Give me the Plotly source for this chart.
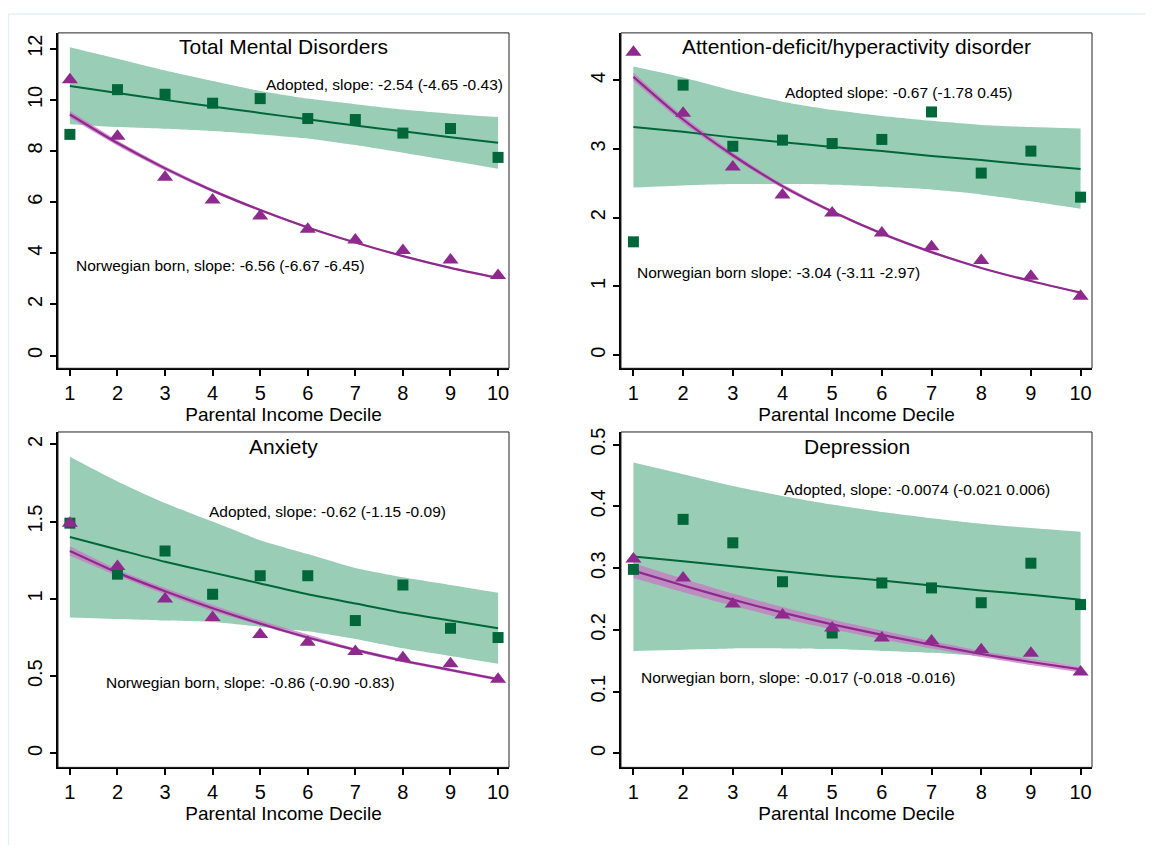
import plotly.graph_objects as go

# ---------------- data ----------------
deciles = [1, 2, 3, 4, 5, 6, 7, 8, 9, 10]

tmd_adopted = [8.65, 10.40, 10.22, 9.87, 10.05, 9.27, 9.23, 8.70, 8.88, 7.75]
tmd_norw = [10.79, 8.58, 6.97, 6.08, 5.46, 4.94, 4.52, 4.11, 3.74, 3.13]
tmd_adopted_fit = [10.54, 10.27, 10.00, 9.74, 9.49, 9.24, 9.00, 8.77, 8.54, 8.32]
tmd_adopted_lo = [9.05, 8.94, 8.87, 8.78, 8.65, 8.49, 8.23, 7.93, 7.62, 7.31]
tmd_adopted_hi = [12.06, 11.61, 11.15, 10.74, 10.35, 10.05, 9.83, 9.62, 9.46, 9.33]
tmd_norw_fit = [9.43, 8.31, 7.32, 6.45, 5.69, 5.01, 4.42, 3.89, 3.43, 3.03]
tmd_norw_lo = [9.30, 8.21, 7.24, 6.39, 5.64, 4.97, 4.39, 3.86, 3.40, 3.00]
tmd_norw_hi = [9.56, 8.41, 7.40, 6.51, 5.74, 5.05, 4.45, 3.92, 3.46, 3.06]

adhd_adopted = [1.65, 3.93, 3.04, 3.13, 3.08, 3.14, 3.54, 2.65, 2.97, 2.30]
adhd_norw = [4.41, 3.52, 2.74, 2.33, 2.07, 1.78, 1.58, 1.38, 1.15, 0.86]
adhd_adopted_fit = [3.32, 3.25, 3.17, 3.10, 3.03, 2.97, 2.90, 2.84, 2.77, 2.71]
adhd_adopted_lo = [2.44, 2.47, 2.49, 2.49, 2.48, 2.45, 2.41, 2.34, 2.24, 2.13]
adhd_adopted_hi = [4.20, 4.04, 3.85, 3.69, 3.57, 3.48, 3.41, 3.35, 3.32, 3.30]
adhd_norw_fit = [4.05, 3.43, 2.91, 2.46, 2.09, 1.77, 1.50, 1.27, 1.08, 0.91]
adhd_norw_lo = [3.99, 3.38, 2.87, 2.43, 2.07, 1.75, 1.48, 1.26, 1.07, 0.90]
adhd_norw_hi = [4.11, 3.48, 2.95, 2.49, 2.11, 1.79, 1.52, 1.28, 1.09, 0.92]

anx_adopted = [1.49, 1.16, 1.31, 1.03, 1.15, 1.15, 0.86, 1.09, 0.81, 0.75]
anx_norw = [1.49, 1.21, 1.00, 0.88, 0.77, 0.72, 0.66, 0.62, 0.58, 0.48]
anx_adopted_fit = [1.40, 1.32, 1.24, 1.17, 1.10, 1.03, 0.97, 0.91, 0.86, 0.81]
anx_adopted_lo = [0.88, 0.87, 0.86, 0.85, 0.82, 0.79, 0.74, 0.68, 0.63, 0.58]
anx_adopted_hi = [1.92, 1.76, 1.62, 1.50, 1.38, 1.29, 1.20, 1.14, 1.09, 1.04]
anx_norw_fit = [1.31, 1.17, 1.05, 0.94, 0.84, 0.75, 0.67, 0.60, 0.54, 0.48]
anx_norw_lo = [1.28, 1.15, 1.03, 0.92, 0.83, 0.74, 0.66, 0.59, 0.53, 0.47]
anx_norw_hi = [1.34, 1.19, 1.07, 0.96, 0.86, 0.77, 0.68, 0.61, 0.55, 0.49]

dep_adopted = [0.298, 0.379, 0.341, 0.278, 0.195, 0.276, 0.268, 0.244, 0.308, 0.241]
dep_norw = [0.315, 0.284, 0.242, 0.224, 0.203, 0.187, 0.182, 0.168, 0.162, 0.132]
dep_adopted_fit = [0.319, 0.311, 0.303, 0.295, 0.287, 0.280, 0.272, 0.264, 0.257, 0.249]
dep_adopted_lo = [0.166, 0.168, 0.170, 0.170, 0.169, 0.166, 0.163, 0.158, 0.151, 0.141]
dep_adopted_hi = [0.471, 0.452, 0.433, 0.417, 0.403, 0.391, 0.381, 0.372, 0.365, 0.359]
dep_norw_fit = [0.296, 0.272, 0.249, 0.228, 0.209, 0.192, 0.176, 0.161, 0.148, 0.136]
dep_norw_lo = [0.284, 0.261, 0.239, 0.219, 0.201, 0.185, 0.170, 0.156, 0.143, 0.131]
dep_norw_hi = [0.308, 0.283, 0.259, 0.237, 0.217, 0.199, 0.182, 0.166, 0.153, 0.141]

titles = ["Total Mental Disorders", "Attention-deficit/hyperactivity disorder", "Anxiety", "Depression"]
adopted_labels = [
    "Adopted, slope: -2.54 (-4.65 -0.43)",
    "Adopted slope: -0.67 (-1.78 0.45)",
    "Adopted, slope: -0.62 (-1.15 -0.09)",
    "Adopted, slope: -0.0074 (-0.021 0.006)",
]
norw_labels = [
    "Norwegian born, slope: -6.56 (-6.67 -6.45)",
    "Norwegian born slope: -3.04 (-3.11 -2.97)",
    "Norwegian born, slope: -0.86 (-0.90 -0.83)",
    "Norwegian born, slope: -0.017 (-0.018 -0.016)",
]
y_ticks = [
    [0, 2, 4, 6, 8, 10, 12],
    [0, 1, 2, 3, 4],
    [0, 0.5, 1, 1.5, 2],
    [0, 0.1, 0.2, 0.3, 0.4, 0.5],
]
y_ticktext = [
    ["0", "2", "4", "6", "8", "10", "12"],
    ["0", "1", "2", "3", "4"],
    ["0", "0.5", "1", "1.5", "2"],
    ["0", "0.1", "0.2", "0.3", "0.4", "0.5"],
]
x_title = "Parental Income Decile"

panels = [
    dict(adopted=tmd_adopted, norw=tmd_norw, afit=tmd_adopted_fit, alo=tmd_adopted_lo, ahi=tmd_adopted_hi,
         nfit=tmd_norw_fit, nlo=tmd_norw_lo, nhi=tmd_norw_hi),
    dict(adopted=adhd_adopted, norw=adhd_norw, afit=adhd_adopted_fit, alo=adhd_adopted_lo, ahi=adhd_adopted_hi,
         nfit=adhd_norw_fit, nlo=adhd_norw_lo, nhi=adhd_norw_hi),
    dict(adopted=anx_adopted, norw=anx_norw, afit=anx_adopted_fit, alo=anx_adopted_lo, ahi=anx_adopted_hi,
         nfit=anx_norw_fit, nlo=anx_norw_lo, nhi=anx_norw_hi),
    dict(adopted=dep_adopted, norw=dep_norw, afit=dep_adopted_fit, alo=dep_adopted_lo, ahi=dep_adopted_hi,
         nfit=dep_norw_fit, nlo=dep_norw_lo, nhi=dep_norw_hi),
]

# ---------------- styling / layout ----------------
OFF = 8  # page body margin in the browser
W, H = 1154 - OFF, 845 - OFF
GREEN = "#00673A"
GREEN_BAND = "#99CDB5"
PURPLE = "#8E2A8E"
PURPLE_BAND = "rgba(200,120,195,0.75)"
FONT = "Liberation Sans, Arial, sans-serif"

# pixel frames of each panel on screen (left, right, top, bottom)
frames = [(58, 509, 29, 366), (621, 1092, 29, 366), (58, 509, 430, 767), (621, 1092, 430, 767)]
y_ranges = [(-0.5, 12.62), (-0.19, 4.69), (-0.09, 2.08), (-0.0226, 0.5205)]
x_ranges = [(0.75, 10.23), (0.75, 10.23), (0.75, 10.23), (0.75, 10.23)]

adopted_pos = [(0.457, 0.846), (0.344, 0.822), (0.330, 0.762), (0.342, 0.829)]
norw_pos = [(0.035, 0.306), (0.030, 0.285), (0.102, 0.252), (0.039, 0.267)]

fig = go.Figure()
layout = dict(
    width=W, height=H,
    margin=dict(l=0, r=0, t=0, b=0),
    paper_bgcolor="white", plot_bgcolor="white",
    showlegend=False,
    font=dict(family=FONT, color="black"),
)
annotations = []
shapes = []

for i, p in enumerate(panels):
    n = i + 1
    xa = "x" if n == 1 else f"x{n}"
    ya = "y" if n == 1 else f"y{n}"
    xkey = "xaxis" if n == 1 else f"xaxis{n}"
    ykey = "yaxis" if n == 1 else f"yaxis{n}"
    l, r, t, b = [v - OFF for v in frames[i]]

    # adopted CI band
    fig.add_trace(go.Scatter(x=deciles, y=p["alo"], mode="lines", line=dict(width=0, color=GREEN_BAND, shape="spline", smoothing=0.6),
                             xaxis=xa, yaxis=ya, hoverinfo="skip"))
    fig.add_trace(go.Scatter(x=deciles, y=p["ahi"], mode="lines", line=dict(width=0, color=GREEN_BAND, shape="spline", smoothing=0.6),
                             fill="tonexty", fillcolor=GREEN_BAND, xaxis=xa, yaxis=ya, hoverinfo="skip"))
    # norwegian CI band
    fig.add_trace(go.Scatter(x=deciles, y=p["nlo"], mode="lines", line=dict(width=0, color=PURPLE_BAND, shape="spline", smoothing=0.6),
                             xaxis=xa, yaxis=ya, hoverinfo="skip"))
    fig.add_trace(go.Scatter(x=deciles, y=p["nhi"], mode="lines", line=dict(width=0, color=PURPLE_BAND, shape="spline", smoothing=0.6),
                             fill="tonexty", fillcolor=PURPLE_BAND, xaxis=xa, yaxis=ya, hoverinfo="skip"))
    # fitted lines
    fig.add_trace(go.Scatter(x=deciles, y=p["afit"], mode="lines", line=dict(width=2, color=GREEN, shape="spline", smoothing=0.6),
                             xaxis=xa, yaxis=ya))
    fig.add_trace(go.Scatter(x=deciles, y=p["nfit"], mode="lines", line=dict(width=2.2, color=PURPLE, shape="spline", smoothing=0.6),
                             xaxis=xa, yaxis=ya))
    # observed points
    fig.add_trace(go.Scatter(x=deciles, y=p["adopted"], mode="markers",
                             marker=dict(symbol="square", size=11, color=GREEN), xaxis=xa, yaxis=ya, cliponaxis=False))
    fig.add_trace(go.Scatter(x=deciles, y=p["norw"], mode="markers",
                             marker=dict(symbol="triangle-up", size=14, color=PURPLE), xaxis=xa, yaxis=ya, cliponaxis=False))

    layout[xkey] = dict(
        domain=[l / W, r / W], anchor=ya, range=list(x_ranges[i]),
        tickmode="array", tickvals=deciles, ticktext=[str(d) for d in deciles],
        ticks="outside", ticklen=6, tickwidth=2, tickcolor="black",
        showline=True, linecolor="black", linewidth=2, mirror=False,
        showgrid=False, zeroline=False,
        tickfont=dict(size=20, family=FONT, color="black"),
        title=dict(text=x_title, font=dict(size=19, family=FONT, color="black"), standoff=2),
    )
    layout[ykey] = dict(
        domain=[1 - b / H, 1 - t / H], anchor=xa, range=list(y_ranges[i]),
        tickmode="array", tickvals=y_ticks[i], ticktext=y_ticktext[i],
        ticks="outside", ticklen=6, tickwidth=2, tickcolor="black",
        showline=True, linecolor="black", linewidth=2, mirror=False,
        showgrid=False, zeroline=False, tickangle=-90,
        tickfont=dict(size=20, family=FONT, color="black"),
    )
    # thin frame (top/right)
    shapes.append(dict(type="rect", xref=f"{xa} domain", yref=f"{ya} domain", x0=0, x1=1, y0=0, y1=1,
                       line=dict(color="#222222", width=1), layer="above"))
    # titles and labels
    annotations.append(dict(text=titles[i], xref=f"{xa} domain", yref=f"{ya} domain", x=0.5, y=0.958,
                            xanchor="center", yanchor="middle", showarrow=False,
                            font=dict(size=21, family=FONT, color="black")))
    annotations.append(dict(text=adopted_labels[i], xref=f"{xa} domain", yref=f"{ya} domain",
                            x=adopted_pos[i][0], y=adopted_pos[i][1], xanchor="left", yanchor="middle",
                            showarrow=False, font=dict(size=15.5, family=FONT, color="black")))
    annotations.append(dict(text=norw_labels[i], xref=f"{xa} domain", yref=f"{ya} domain",
                            x=norw_pos[i][0], y=norw_pos[i][1], xanchor="left", yanchor="middle",
                            showarrow=False, font=dict(size=15.5, family=FONT, color="black")))

# faint outer border
shapes.append(dict(type="line", xref="paper", yref="paper", x0=0.5 / W, x1=0.5 / W, y0=0, y1=1 - 2 / H,
                   line=dict(color="#E3F1F1", width=1.5)))
shapes.append(dict(type="line", xref="paper", yref="paper", x0=0, x1=1, y0=1 - 2 / H, y1=1 - 2 / H,
                   line=dict(color="#E3F1F1", width=1.5)))

layout["annotations"] = annotations
layout["shapes"] = shapes
fig.update_layout(**layout)

fig.write_html("out.html")
